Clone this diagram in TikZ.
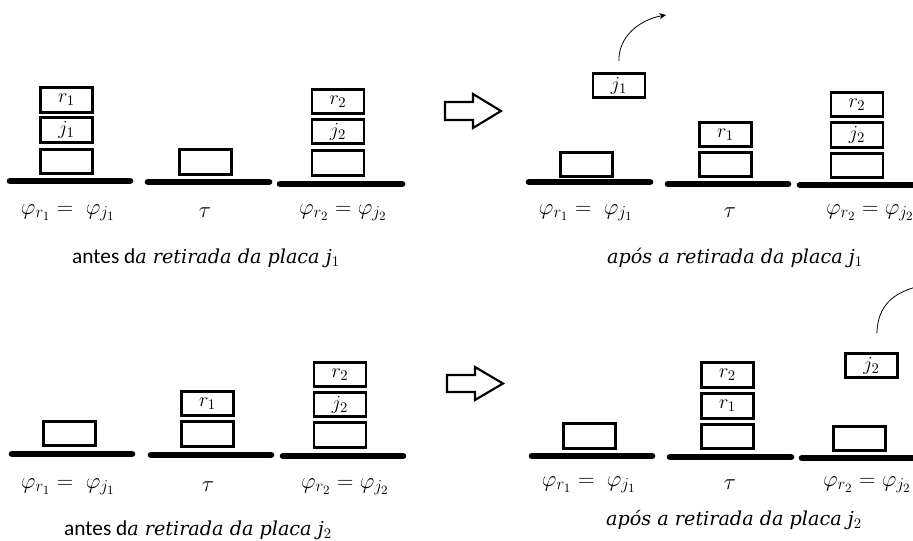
\RequirePackage{fix-cm}
\documentclass[tikz,border=0pt]{standalone}
\usepackage{fontspec}
\newfontfamily\capit{DejaVu Serif}
\newfontfamily\capsans{Carlito}
\usetikzlibrary{arrows.meta}
% larger script sizes, closer to an equation-editor look
\DeclareMathSizes{17}{17}{12.5}{9.5}
\DeclareMathSizes{15}{15}{11}{8}
\DeclareMathSizes{14.4}{14.4}{11}{8}

\begin{document}
\begin{tikzpicture}[x=0.75pt,y=-0.75pt,
  plate/.style={draw, line width=2.2pt, minimum width=39pt, minimum height=18.5pt,
                inner sep=0pt, font=\fontsize{15}{17}\selectfont},
  base/.style={line width=5pt, line cap=round},
  lbl/.style={font=\fontsize{17}{19}\selectfont, inner sep=0pt},
  captext/.style={font=\fontsize{14.4}{16}\selectfont, inner sep=0pt},
  hollow/.style={draw, line width=1.6pt, line join=miter},
  lift/.style={-{Stealth[length=5pt,width=4.5pt]}, line width=0.6pt}
]
\useasboundingbox (0,0) rectangle (913,540);
\clip (0,0) rectangle (913,540);

% ---------- top left: before removing j1 ----------
\draw[base] (10,181) -- (130,181);
\draw[base] (148,182) -- (269,182);
\draw[base] (280,184) -- (402,184);
\node[plate] (a1) at (66.5,161.5) {};
\node[plate] (a2) at (66.5,130) {$j_1$};
\node[plate] (a3) at (66.5,100) {$r_1$};
\node[plate] (a4) at (205.5,162) {};
\node[plate] (a5) at (338,163) {};
\node[plate] (a6) at (338,131.5) {$j_2$};
\node[plate] (a7) at (338,101.5) {$r_2$};
\node[lbl] (la1) at (68,213) {$\varphi_{r_1} = \;\varphi_{j_1}$};
\node[lbl] (la2) at (205,213) {$\tau$};
\node[lbl] (la3) at (343,213) {$\varphi_{r_2} = \varphi_{j_2}$};
\node[captext] (ca) at (206,258) {{\capsans\fontsize{16}{18}\selectfont antes d}{\capit\itshape a retirada da placa j}$_1$};

% ---------- transition arrow (top) ----------
\draw[hollow] (445,102) -- (473,102) -- (473,94) -- (501,111) -- (473,128)
  -- (473,120) -- (445,120) -- cycle;

% ---------- top right: after removing j1 ----------
\draw[base] (529,182) -- (650,182);
\draw[base] (668,184) -- (788,184);
\draw[base] (800,185) -- (930,185);
\node[plate] (fj1) at (619,85.5) {$j_1$};
\node[plate] (b1) at (586.5,164.5) {};
\node[plate] (b2) at (725.5,164.5) {};
\node[plate] (b3) at (725.5,134.5) {$r_1$};
\node[plate] (b4) at (857,165.5) {};
\node[plate] (b5) at (857,135) {$j_2$};
\node[plate] (b6) at (857,104.5) {$r_2$};
\coordinate (liftA) at (666,15);
\draw[lift] ([yshift=8pt]fj1.north) .. controls (618,38) and (638,20) .. (liftA);
\node[lbl] (lb1) at (586,213) {$\varphi_{r_1} = \;\varphi_{j_1}$};
\node[lbl] (lb2) at (730,213) {$\tau$};
\node[lbl] (lb3) at (870,213) {$\varphi_{r_2} = \varphi_{j_2}$};
\node[captext] (cb) at (735,258) {{\capit\itshape após a retirada da placa j}$_1$};

% ---------- bottom left: before removing j2 ----------
\draw[base] (12,454) -- (132,454);
\draw[base] (151,455) -- (271,455);
\draw[base] (283,456) -- (403,456);
\node[plate] (c1) at (69.5,433.5) {};
\node[plate] (c2) at (207.5,434) {};
\node[plate] (c3) at (207.5,403.5) {$r_1$};
\node[plate] (c4) at (340,435) {};
\node[plate] (c5) at (340,404.5) {$j_2$};
\node[plate] (c6) at (340,374.5) {$r_2$};
\node[lbl] (lc1) at (68,487) {$\varphi_{r_1} = \;\varphi_{j_1}$};
\node[lbl] (lc2) at (208,487) {$\tau$};
\node[lbl] (lc3) at (345,487) {$\varphi_{r_2} = \varphi_{j_2}$};
\node[captext] (cc) at (198,530) {{\capsans\fontsize{16}{18}\selectfont antes d}{\capit\itshape a retirada da placa j}$_2$};

% ---------- transition arrow (bottom) ----------
\draw[hollow] (447,375) -- (475,375) -- (475,367) -- (503,383.5) -- (475,400)
  -- (475,392) -- (447,392) -- cycle;

% ---------- bottom right: after removing j2 ----------
\draw[base] (532,456) -- (652,456);
\draw[base] (670,457) -- (791,457);
\draw[base] (802,458) -- (930,458);
\node[plate] (fj2) at (871.5,365.5) {$j_2$};
\node[plate] (d1) at (589.5,436) {};
\node[plate] (d2) at (727.5,436.5) {};
\node[plate] (d3) at (727.5,406) {$r_1$};
\node[plate] (d4) at (727.5,375) {$r_2$};
\node[plate] (d5) at (859.5,438.5) {};
\coordinate (liftB) at (935,283);
\draw[lift] ([xshift=4pt,yshift=14pt]fj2.north) .. controls (878,305) and (893,290) .. (liftB);
\node[lbl] (ld1) at (589,485) {$\varphi_{r_1} = \;\varphi_{j_1}$};
\node[lbl] (ld2) at (730,485) {$\tau$};
\node[lbl] (ld3) at (867,485) {$\varphi_{r_2} = \varphi_{j_2}$};
\node[captext] (cd) at (734,520) {{\capit\itshape após a retirada da placa j}$_2$};
\end{tikzpicture}
\end{document}
